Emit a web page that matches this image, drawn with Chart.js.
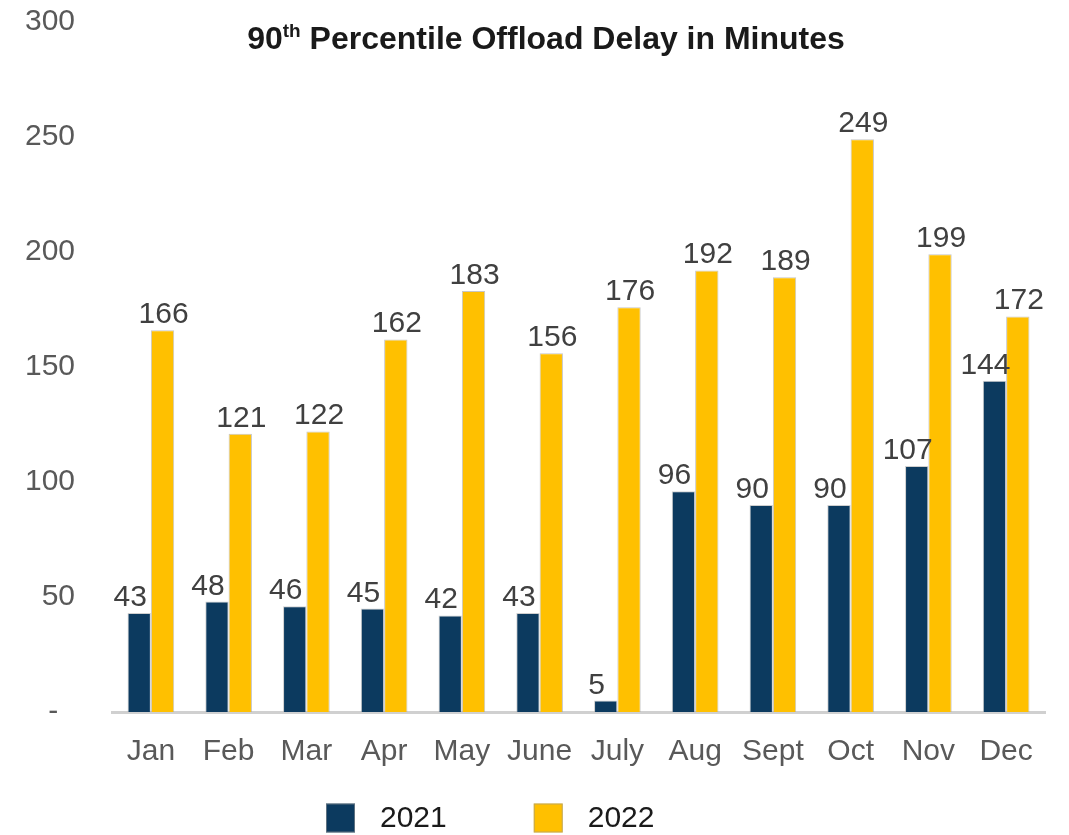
<!DOCTYPE html>
<html>
<head>
<meta charset="utf-8">
<script src="https://cdn.jsdelivr.net/npm/chart.js@4.4.1/dist/chart.umd.min.js"></script>
<style>
  html, body { margin: 0; padding: 0; background: #fff; }
  #wrap { position: relative; width: 1069px; height: 835px; }
  #title {
    position: absolute; left: 0; width: 1092px; top: 20px;
    text-align: center; font: bold 32px "Liberation Sans", Arial, sans-serif; color: #1a1a1a;
  }
  #title sup { font-size: 19px; vertical-align: 12px; line-height: 0; }
</style>
</head>
<body>
<div id="wrap">
  <canvas id="offloadChart" width="1069" height="835"></canvas>
  <div id="title">90<sup>th</sup> Percentile Offload Delay in Minutes</div>
</div>
<script>
// data
const months = ['Jan', 'Feb', 'Mar', 'Apr', 'May', 'June', 'July', 'Aug', 'Sept', 'Oct', 'Nov', 'Dec'];
const delay2021 = [43, 48, 46, 45, 42, 43, 5, 96, 90, 90, 107, 144];
const delay2022 = [166, 121, 122, 162, 183, 156, 176, 192, 189, 249, 199, 172];
const yTicks = [0, 50, 100, 150, 200, 250, 300];

const FONT = '"Liberation Sans", Arial, sans-serif';

// value labels above each bar
const valueLabels = {
    id: 'valueLabels',
    afterDatasetsDraw(chart) {
        const ctx = chart.ctx;
        ctx.save();
        ctx.font = '30px ' + FONT;
        ctx.fillStyle = '#404040';
        ctx.textAlign = 'center';
        ctx.textBaseline = 'alphabetic';
        chart.data.datasets.forEach((ds, i) => {
            const shift = i === 0 ? -9 : 1;
            chart.getDatasetMeta(i).data.forEach((bar, j) => {
                ctx.fillText(ds.data[j], bar.x + shift, bar.y - 7);
            });
        });
        ctx.restore();
    }
};

// legend at the bottom, drawn by hand to match spacing
const bottomLegend = {
    id: 'bottomLegend',
    afterDraw(chart) {
        const ctx = chart.ctx;
        let x = 326;
        const yMid = 818;
        ctx.save();
        ctx.font = '30px ' + FONT;
        ctx.textBaseline = 'middle';
        chart.data.datasets.forEach(ds => {
            ctx.fillStyle = ds.backgroundColor;
            ctx.fillRect(x, yMid - 14.5, 29, 29);
            ctx.strokeStyle = 'rgba(150,150,150,0.6)';
            ctx.lineWidth = 1;
            ctx.strokeRect(x + 0.5, yMid - 14, 28, 28);
            ctx.fillStyle = '#1a1a1a';
            ctx.fillText(ds.label, x + 54, yMid + 1);
            x += 54 + ctx.measureText(ds.label).width + 87;
        });
        ctx.restore();
    }
};

new Chart(document.getElementById('offloadChart'), {
    type: 'bar',
    data: {
        labels: months,
        datasets: [
            {
                label: '2021',
                data: delay2021,
                backgroundColor: '#0c3a5f',
                borderColor: 'rgba(160,160,160,0.5)',
                borderWidth: 1
            },
            {
                label: '2022',
                data: delay2022,
                backgroundColor: '#ffc000',
                borderColor: 'rgba(160,160,160,0.6)',
                borderWidth: 1
            }
        ]
    },
    options: {
        responsive: false,
        animation: false,
        layout: { padding: { top: 22, right: 24, left: 0, bottom: 0 } },
        datasets: {
            bar: { categoryPercentage: 0.6, barPercentage: 1 }
        },
        plugins: {
            legend: { display: false },
            title: { display: false },
            tooltip: { enabled: false }
        },
        scales: {
            x: {
                grid: { display: false, drawTicks: false },
                border: { display: true, color: '#d0d0d0', width: 3 },
                ticks: { color: '#595959', font: { size: 30, family: FONT }, padding: 22 },
                afterFit(scale) { scale.height = 123; }
            },
            y: {
                min: 0,
                max: 300,
                afterBuildTicks(scale) { scale.ticks = yTicks.map(v => ({ value: v })); },
                grid: { display: false, drawTicks: false },
                border: { display: false },
                ticks: {
                    color: '#595959',
                    font: { size: 30, family: FONT },
                    padding: 37,
                    callback: v => (v === 0 ? '-  ' : v)
                },
                afterFit(scale) {
                    scale.width = 112;
                    scale.paddingTop = 0;
                    scale.paddingBottom = 0;
                }
            }
        }
    },
    plugins: [valueLabels, bottomLegend]
});
</script>
</body>
</html>
